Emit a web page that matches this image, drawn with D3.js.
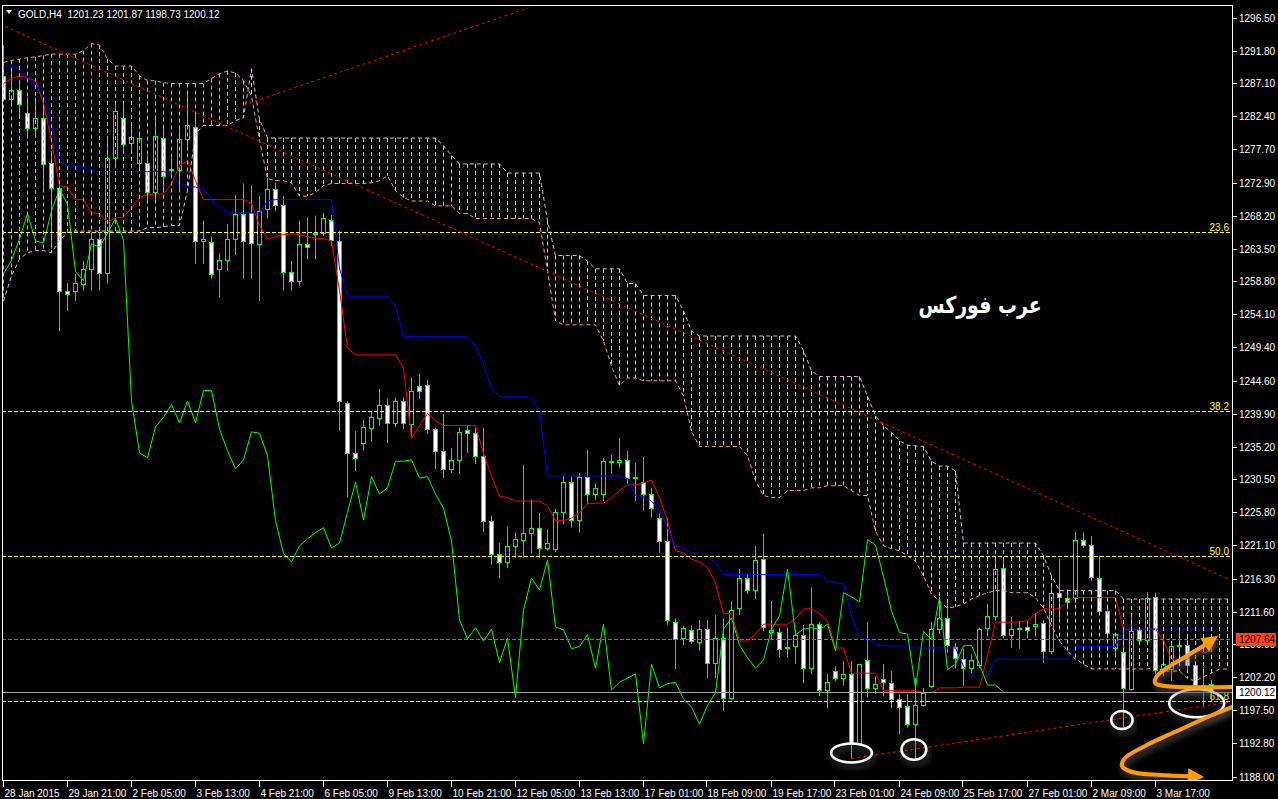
<!DOCTYPE html>
<html><head><meta charset="utf-8">
<script src="https://cdn.jsdelivr.net/npm/d3@7"></script>
<style>
html,body{margin:0;padding:0;background:#000;overflow:hidden}
svg{display:block}
</style></head><body>
<svg id="c" width="1278" height="799"></svg>
<script>
// ---------------- DATA ----------------
const symbol = "GOLD,H4";
const opens = [1288.2,1284.9,1286.1,1282.9,1280.8,1282.2,1275.8,1272.2,1257.5,1257.5,
1258.5,1260.6,1264.9,1260.0,1276.5,1282.1,1278.6,1275.8,1275.8,1271.6,
1279.3,1274.8,1274.8,1279.1,1280.9,1264.6,1264.5,1260.6,1261.8,1264.8,
1268.5,1268.6,1264.2,1269.2,1272.0,1269.8,1260.2,1258.9,1264.2,1265.6,
1265.7,1267.6,1264.6,1241.4,1234.3,1235.7,1237.9,1239.3,1241.2,1238.6,
1241.7,1238.4,1243.9,1244.0,1237.7,1234.6,1232.0,1233.3,1237.6,1237.1,
1233.9,1224.6,1219.9,1218.7,1221.0,1221.9,1222.9,1223.6,1220.7,1220.6,
1225.8,1230.1,1224.7,1230.9,1228.4,1228.4,1233.0,1233.0,1233.3,1230.7,
1230.1,1228.4,1225.0,1221.7,1210.1,1207.8,1209.0,1207.3,1209.1,1204.3,
1207.8,1199.3,1212.1,1216.4,1214.7,1219.1,1208.7,1208.7,1206.4,1206.7,
1208.3,1203.5,1209.8,1200.4,1203.1,1202.1,1202.7,1192.7,1204.7,1200.7,
1202.0,1201.4,1199.1,1198.1,1195.5,1198.2,1201.0,1209.1,1210.7,1206.6,
1204.8,1203.5,1204.0,1209.3,1211.0,1217.9,1208.3,1209.1,1209.4,1209.6,
1210.0,1206.0,1214.3,1213.6,1213.6,1221.9,1221.1,1216.4,1211.7,1206.4,
1205.8,1200.5,1209.0,1207.6,1213.7,1203.2,1203.4,1206.7,1206.8,1204.0,
1200.8,1201.23];
const highs = [1292.6,1289.1,1287.2,1285.1,1285.1,1285.1,1277.5,1272.9,1258.6,1259.9,
1261.7,1265.8,1265.8,1279.1,1284.2,1284.2,1281.2,1279.9,1276.8,1282.2,
1280.9,1276.5,1280.6,1285.6,1282.9,1267.5,1265.2,1262.8,1267.0,1271.2,
1272.8,1272.5,1271.0,1273.6,1272.9,1271.0,1261.7,1267.5,1267.9,1268.2,
1268.6,1268.3,1266.0,1241.7,1237.4,1239.0,1240.3,1243.4,1242.0,1242.2,
1242.2,1245.0,1245.6,1244.7,1237.9,1239.9,1235.0,1237.9,1238.3,1237.9,
1237.9,1225.3,1221.4,1223.7,1222.9,1232.6,1227.6,1225.7,1223.3,1226.3,
1231.0,1230.9,1231.4,1234.7,1229.9,1233.6,1234.0,1236.4,1234.6,1232.9,
1233.7,1229.3,1225.6,1225.0,1210.6,1209.6,1209.6,1210.4,1210.4,1211.1,
1210.6,1213.1,1217.7,1217.0,1221.0,1222.7,1213.1,1209.3,1209.3,1209.0,
1209.7,1215.1,1210.1,1202.7,1203.8,1204.5,1204.5,1204.1,1210.1,1202.3,
1204.1,1203.1,1199.8,1199.8,1202.1,1200.7,1210.1,1213.7,1212.8,1207.1,
1206.3,1205.5,1209.3,1212.7,1219.3,1219.3,1210.8,1210.3,1210.3,1211.4,
1210.4,1215.7,1219.1,1214.8,1223.0,1222.9,1222.4,1219.6,1212.1,1208.6,
1209.1,1211.4,1209.3,1214.4,1214.3,1208.4,1207.2,1209.0,1208.1,1204.5,
1203.7,1201.87];
const lows = [1284.6,1284.2,1282.1,1279.3,1279.6,1271.8,1263.5,1251.7,1254.6,1256.0,
1257.5,1257.5,1257.5,1258.5,1275.6,1277.5,1277.5,1274.6,1269.9,1269.9,
1271.5,1273.9,1271.8,1277.5,1261.3,1261.3,1259.2,1256.5,1260.3,1262.6,
1259.2,1259.2,1256.0,1267.8,1268.9,1257.5,1257.5,1258.2,1262.0,1262.0,
1265.3,1263.9,1237.4,1227.9,1231.7,1234.6,1235.9,1238.2,1235.7,1238.0,
1237.7,1236.6,1242.0,1237.0,1232.0,1230.7,1231.4,1231.3,1234.3,1232.7,
1223.0,1218.3,1216.4,1217.8,1219.3,1219.3,1219.9,1219.3,1220.3,1220.1,
1224.1,1223.6,1222.9,1227.0,1227.6,1227.4,1231.3,1232.2,1229.9,1227.4,
1226.0,1225.0,1220.0,1209.7,1203.4,1206.8,1207.0,1206.0,1202.1,1202.1,
1197.4,1199.1,1211.1,1214.1,1213.4,1208.8,1207.7,1205.0,1205.0,1204.1,
1201.4,1202.7,1199.5,1197.8,1201.7,1201.0,1190.5,1192.5,1199.3,1199.8,
1199.5,1197.8,1194.1,1195.0,1190.3,1198.0,1200.7,1208.4,1205.7,1203.5,
1201.0,1202.8,1203.5,1208.1,1210.3,1207.8,1206.4,1206.3,1207.8,1208.1,
1204.3,1205.5,1210.6,1212.0,1212.8,1220.7,1216.0,1211.3,1207.8,1205.5,
1195.0,1200.3,1207.3,1207.0,1202.7,1202.4,1201.7,1204.5,1203.4,1200.3,
1198.0,1198.73];
const closes = [1284.9,1286.1,1284.2,1280.8,1282.2,1275.6,1272.2,1257.5,1257.0,1258.6,
1260.6,1264.9,1260.0,1276.5,1283.2,1278.5,1279.5,1279.3,1271.6,1279.6,
1273.9,1274.9,1279.1,1281.1,1264.6,1264.8,1259.9,1261.8,1264.9,1268.5,
1264.6,1264.3,1268.9,1272.0,1269.8,1260.2,1258.9,1264.2,1263.7,1265.7,
1267.8,1264.7,1241.7,1234.3,1233.6,1238.0,1239.4,1241.2,1238.6,1241.7,
1238.6,1243.2,1243.2,1237.7,1234.6,1232.0,1233.3,1237.3,1237.1,1233.9,
1224.6,1219.9,1218.7,1221.0,1222.0,1222.9,1223.6,1220.7,1221.4,1225.8,
1230.1,1224.7,1230.9,1228.4,1229.3,1233.1,1233.1,1233.3,1230.7,1230.9,
1228.4,1226.4,1221.7,1210.4,1207.7,1209.3,1207.4,1209.1,1204.3,1207.8,
1199.3,1211.8,1216.4,1214.7,1219.0,1209.4,1209.0,1206.3,1206.6,1208.3,
1203.5,1209.8,1200.4,1201.5,1202.1,1202.7,1192.7,1204.1,1200.7,1201.3,
1201.5,1199.1,1198.0,1195.5,1198.2,1200.0,1209.1,1210.7,1206.8,1205.0,
1203.5,1204.7,1209.1,1211.0,1217.7,1208.3,1209.1,1209.3,1209.0,1209.8,
1206.0,1214.3,1213.7,1213.0,1221.9,1221.1,1216.6,1211.7,1208.6,1208.4,
1200.7,1208.8,1207.6,1213.6,1203.3,1204.1,1206.7,1206.8,1204.0,1201.1,
1201.1,1200.12];
// Ichimoku: Tenkan-sen (red) and Kijun-sen (blue), per bar
const tenkan = [1287.1,1287.8,1288.2,1287.9,1287.5,1284.2,1278.9,1272.5,1272.3,1270.5,
1270.5,1268.6,1268.5,1267.2,1267.9,1268.0,1269.3,1270.8,1271.2,1271.3,
1271.3,1272.8,1275.3,1276.1,1273.2,1270.5,1270.5,1270.5,1270.5,1270.5,
1270.5,1269.9,1266.8,1264.9,1265.2,1265.5,1265.6,1265.5,1265.2,1265.0,
1264.9,1264.6,1257.5,1249.3,1248.3,1248.3,1248.3,1248.3,1248.3,1248.3,
1246.4,1236.4,1238.2,1239.9,1238.9,1238.2,1238.2,1238.2,1238.2,1238.2,
1234.2,1231.0,1228.1,1227.9,1227.4,1227.4,1227.4,1227.4,1226.7,1224.6,
1224.6,1225.0,1225.7,1227.0,1227.1,1227.1,1227.9,1228.9,1229.7,1229.7,
1230.0,1230.4,1227.9,1224.6,1220.3,1220.0,1219.1,1218.7,1217.9,1215.7,
1211.3,1211.3,1207.4,1207.4,1208.4,1209.8,1209.8,1209.8,1209.8,1210.6,
1212.0,1212.0,1211.3,1210.3,1206.4,1206.4,1202.8,1202.8,1202.8,1202.8,
1200.3,1200.3,1200.3,1200.3,1200.3,1200.0,1200.0,1200.7,1200.7,1200.7,
1200.8,1200.8,1200.8,1205.3,1210.1,1210.1,1210.1,1210.1,1210.3,1211.3,
1212.0,1212.0,1212.0,1213.1,1213.6,1213.6,1213.6,1213.6,1213.6,1213.6,
1209.1,1209.1,1209.1,1209.1,1209.1,1207.4,1204.8,1204.8,1204.8,1206.3,
1205.7,1206.0];
const kijun = [1289.6,1289.6,1289.3,1287.9,1286.8,1285.6,1281.3,1276.0,1275.3,1275.3,
1275.3,1274.6,1274.5,1274.5,1274.5,1274.5,1274.5,1274.5,1274.5,1274.5,
1274.5,1274.2,1272.8,1272.3,1272.3,1272.0,1270.5,1269.5,1268.6,1268.6,
1268.6,1268.6,1268.6,1270.3,1270.5,1270.5,1270.5,1270.5,1270.5,1270.5,
1270.5,1270.5,1260.7,1256.7,1256.7,1256.7,1256.7,1256.7,1256.7,1255.3,
1250.9,1250.9,1250.9,1250.9,1250.9,1250.9,1250.9,1250.9,1250.9,1249.6,
1247.0,1243.4,1242.4,1242.4,1242.4,1242.4,1242.2,1240.3,1231.0,1231.0,
1231.0,1231.0,1231.0,1231.0,1231.0,1231.0,1231.0,1231.0,1230.6,1228.2,
1228.0,1227.4,1226.1,1223.6,1221.0,1220.7,1220.0,1219.9,1219.4,1218.6,
1216.9,1216.9,1216.9,1216.9,1216.9,1216.9,1216.9,1216.9,1216.9,1216.9,
1216.9,1216.9,1216.9,1216.0,1215.7,1215.6,1211.0,1208.0,1207.7,1207.0,
1206.7,1206.7,1206.7,1206.7,1206.4,1206.4,1206.4,1206.4,1206.4,1206.4,
1203.8,1202.5,1202.5,1202.5,1204.8,1204.8,1204.8,1204.8,1204.8,1204.8,
1204.8,1204.8,1204.8,1204.8,1206.6,1206.6,1206.6,1206.6,1206.6,1206.6,
1209.1,1209.1,1209.1,1209.1,1209.1,1209.1,1209.1,1209.1,1209.1,1209.1,
1209.1,1209.1];
// Senkou span A (sandy brown) and B (thistle), already shifted 26 bars forward (154 values)
const spanA = [1290.1,1290.4,1290.6,1290.8,1290.9,1291.1,1291.3,1291.3,1291.3,1291.3,
1291.8,1292.8,1292.6,1290.6,1289.6,1289.6,1289.6,1288.2,1287.5,1287.5,
1287.2,1287.1,1287.1,1287.1,1287.1,1287.1,1287.8,1288.5,1288.9,1288.6,
1287.5,1285.3,1279.0,1273.5,1273.2,1273.2,1272.9,1271.0,1271.0,1271.5,
1272.5,1272.8,1272.8,1272.8,1272.8,1272.8,1272.9,1273.2,1273.9,1271.8,
1270.8,1270.3,1270.3,1270.3,1269.6,1269.6,1269.6,1268.5,1268.5,1267.8,
1267.8,1267.8,1267.8,1267.8,1267.8,1267.8,1267.8,1267.2,1260.3,1253.2,
1252.6,1252.6,1252.6,1252.6,1252.6,1250.3,1246.7,1243.9,1245.0,1245.0,
1244.6,1244.6,1244.6,1244.6,1244.6,1242.4,1237.4,1235.2,1235.2,1235.2,
1235.2,1235.2,1235.2,1233.9,1230.3,1228.2,1227.9,1227.9,1228.9,1228.9,
1228.9,1229.3,1229.3,1229.6,1229.6,1229.6,1228.9,1228.2,1228.2,1223.1,
1221.0,1220.6,1220.3,1219.6,1218.8,1216.7,1214.1,1213.1,1212.1,1212.3,
1212.7,1213.4,1213.9,1214.3,1214.6,1214.6,1214.3,1214.3,1214.3,1213.6,
1212.1,1209.6,1207.4,1206.0,1204.8,1204.1,1203.4,1203.4,1203.4,1203.4,
1203.4,1203.4,1203.4,1203.4,1203.7,1203.1,1203.1,1203.1,1202.0,1201.7,
1202.3,1202.8,1203.4,1203.4];
const spanB = [1256.0,1259.6,1262.0,1262.9,1263.2,1263.2,1262.9,1264.6,1265.8,1266.0,
1266.0,1266.0,1266.0,1266.0,1266.0,1266.0,1266.0,1266.0,1266.5,1266.5,
1266.6,1266.8,1266.8,1271.8,1279.9,1281.1,1281.1,1281.1,1281.1,1281.8,
1282.2,1289.2,1282.0,1279.3,1279.3,1279.3,1279.3,1279.3,1279.3,1279.3,
1279.3,1279.3,1279.3,1279.3,1279.3,1279.3,1279.3,1279.3,1279.3,1279.3,
1279.3,1279.3,1279.3,1279.3,1279.3,1278.2,1276.8,1275.6,1275.6,1275.6,
1275.6,1275.6,1275.6,1274.3,1274.3,1274.3,1274.3,1274.3,1267.5,1262.5,
1262.5,1262.5,1262.5,1261.7,1260.6,1260.6,1260.6,1260.6,1258.5,1258.5,
1256.8,1256.8,1256.8,1256.8,1256.8,1254.6,1251.7,1251.0,1251.0,1251.0,
1251.0,1251.0,1251.0,1251.0,1251.0,1251.0,1251.0,1251.0,1251.0,1251.0,
1248.9,1246.0,1245.2,1245.2,1245.2,1245.2,1245.2,1245.2,1242.4,1239.6,
1238.2,1237.2,1236.0,1235.4,1235.3,1235.2,1233.1,1232.4,1232.4,1231.7,
1221.4,1221.4,1221.4,1221.4,1221.4,1221.4,1221.4,1221.4,1221.4,1221.4,
1219.6,1216.7,1214.6,1214.6,1214.6,1214.6,1214.6,1214.6,1214.6,1214.6,
1213.4,1213.4,1213.4,1213.4,1213.4,1213.4,1213.4,1213.4,1213.4,1213.4,
1213.4,1213.4,1213.4,1213.4];
const chikouShift = 26;
// Axis labels
const priceTicks = [1296.5,1291.8,1287.1,1282.4,1277.7,1272.9,1268.2,1263.5,1258.8,1254.1,1249.4,1244.6,
1239.9,1235.2,1230.5,1225.8,1221.1,1216.3,1211.6,1206.9,1202.2,1197.5,1192.8,1188.0];
const timeLabels = ["28 Jan 2015","29 Jan 21:00","2 Feb 05:00","3 Feb 13:00","4 Feb 21:00","6 Feb 05:00",
"9 Feb 13:00","10 Feb 21:00","12 Feb 05:00","13 Feb 13:00","17 Feb 01:00","18 Feb 09:00","19 Feb 17:00",
"23 Feb 01:00","24 Feb 09:00","25 Feb 17:00","27 Feb 01:00","2 Mar 09:00","3 Mar 17:00"];
const timeLabelBars = [0,8,16,24,32,40,48,56,64,72,80,88,96,104,112,120,128,136,144];
// Fibonacci retracement levels
const fibLabels = ["23.6","38.2","50.0","61.8"];
const fibPrices = [1265.9,1240.3,1219.5,1198.8];
// horizontal line & bid
const hlinePrice = 1207.64;
const bidPrice = 1200.12;
// trend lines: [bar, price] start/end
const trendStartBars = [29.97,-0.44,106.0];
const trendStartPrices = [1284.0,1295.6,1190.6];
const trendEndBars = [65.6,153.4,153.5];
const trendEndPrices = [1297.9,1216.1,1198.7];
// annotations (bar, price units)
const ellipseBars = [106.0,113.8,139.8,149.15];
const ellipsePrices = [1191.4,1191.9,1196.1,1198.5];
const ellipseRxBars = [2.55,1.55,1.34,3.44];
const ellipseRyPrices = [1.36,1.47,1.29,2.0];
const arrow1Bars = [153.56,145.19,143.94,144.19,145.44,147.69,149.56,151.81];
const arrow1Prices = [1200.82,1200.97,1201.40,1202.40,1203.54,1205.11,1206.40,1208.11];
const arrow2Bars = [153.56,150.81,146.69,142.69,140.19,139.81,141.06,144.56,150.06];
const arrow2Prices = [1197.96,1196.68,1194.53,1192.39,1190.67,1189.53,1188.67,1188.24,1187.96];
const watermark = "عرب فوركس";

// ---------------- DRAW ----------------
const svg = d3.select("#c");
const PL=2, PR=1233, PT=5, PB=781;
const x = d3.scaleLinear().domain([0,151]).range([3.5,1211.5]);
const y = d3.scaleLinear().domain([1188,1296.5]).range([776.7,17.74]);
const FONT = "'Liberation Sans', Arial, sans-serif";

svg.append("rect").attr("width",1278).attr("height",799).attr("fill","#000");
const defs = svg.append("defs");
defs.append("clipPath").attr("id","clip").append("rect")
  .attr("x",PL).attr("y",PT).attr("width",PR-PL).attr("height",PB-PT);
const f = defs.append("filter").attr("id","shadow").attr("x","-20%").attr("y","-20%").attr("width","140%").attr("height","160%");
f.append("feDropShadow").attr("dx",2).attr("dy",4).attr("stdDeviation",3)
  .attr("flood-color","#5a5a5a").attr("flood-opacity",0.9);

const g = svg.append("g").attr("clip-path","url(#clip)");

// candles
const bars = d3.range(opens.length).map(i=>({i,o:opens[i],h:highs[i],l:lows[i],c:closes[i]}));
g.append("g").selectAll("line").data(bars).join("line")
  .attr("x1",d=>x(d.i)).attr("x2",d=>x(d.i))
  .attr("y1",d=>y(d.h)).attr("y2",d=>y(d.l))
  .attr("stroke","#00ff00").attr("stroke-width",1);
g.append("g").selectAll("rect").data(bars).join("rect")
  .attr("x",d=>x(d.i)-2).attr("width",4)
  .attr("y",d=>Math.round(y(Math.max(d.o,d.c)))+0.5)
  .attr("height",d=>Math.max(0,Math.round(y(Math.min(d.o,d.c)))-Math.round(y(Math.max(d.o,d.c)))))
  .attr("fill",d=>d.c>=d.o?"#000":"#fff")
  .attr("stroke","#00ff00").attr("stroke-width",1);

const lineGen = d3.line().x((d,i)=>x(i)).y(d=>y(d));
// tenkan / kijun
g.append("path").attr("d",lineGen(tenkan)).attr("fill","none").attr("stroke","#ff0000").attr("stroke-width",1);
g.append("path").attr("d",lineGen(kijun)).attr("fill","none").attr("stroke","#0000ff").attr("stroke-width",1);

// cloud hatch
const cloud = d3.range(spanA.length).map(i=>({i,a:spanA[i],b:spanB[i]}));
g.append("g").selectAll("line").data(cloud).join("line")
  .attr("x1",d=>x(d.i)).attr("x2",d=>x(d.i))
  .attr("y1",d=>y(Math.max(d.a,d.b))).attr("y2",d=>y(Math.min(d.a,d.b)))
  .attr("stroke",d=>d.a>=d.b?"#f4a460":"#d8bfd8").attr("stroke-width",1)
  .attr("stroke-dasharray","4,3");

// chikou = closes shifted back
const chikou = closes.slice(chikouShift);
g.append("path").attr("d",lineGen(chikou)).attr("fill","none").attr("stroke","#00ff00").attr("stroke-width",1);

// span edges
g.append("path").attr("d",lineGen(spanA)).attr("fill","none").attr("stroke","#f4a460").attr("stroke-width",1).attr("stroke-dasharray","4,3");
g.append("path").attr("d",lineGen(spanB)).attr("fill","none").attr("stroke","#d8bfd8").attr("stroke-width",1).attr("stroke-dasharray","4,3");

// fib levels
fibPrices.forEach((p,k)=>{
  const yy = Math.round(y(p))+0.5;
  g.append("line").attr("x1",PL).attr("x2",PR).attr("y1",yy).attr("y2",yy)
    .attr("stroke","#ffff00").attr("stroke-width",1).attr("stroke-dasharray","4,2");
  g.append("text").attr("x",1229).attr("y",yy-2).attr("text-anchor","end")
    .attr("fill","#ffff00").attr("font-family",FONT).attr("font-size","10px").text(fibLabels[k]);
});
// horizontal line
{
  const yy = Math.round(y(hlinePrice))+0.5;
  g.append("line").attr("x1",PL).attr("x2",PR).attr("y1",yy).attr("y2",yy)
    .attr("stroke","#ff4500").attr("stroke-width",1).attr("stroke-dasharray","4,2");
}
// trend lines
trendStartBars.forEach((b,k)=>{
  g.append("line").attr("x1",x(b)).attr("y1",y(trendStartPrices[k]))
    .attr("x2",x(trendEndBars[k])).attr("y2",y(trendEndPrices[k]))
    .attr("stroke","#ff0000").attr("stroke-width",1).attr("stroke-dasharray","3,3");
});
// bid line
{
  const yy = Math.round(y(bidPrice))+0.5;
  g.append("line").attr("x1",PL).attr("x2",PR).attr("y1",yy).attr("y2",yy)
    .attr("stroke","#a0a0a0").attr("stroke-width",1);
}

// watermark
svg.append("text").attr("transform","translate(980,313) scale(0.86,1.05)").attr("text-anchor","middle")
  .attr("fill","#fff").attr("font-family","'DejaVu Sans', sans-serif").attr("font-weight","bold")
  .attr("font-size","22px").attr("direction","rtl").text(watermark);

// annotations
const ann = svg.append("g").attr("clip-path","url(#clip)");
ellipseBars.forEach((b,k)=>{
  ann.append("ellipse").attr("cx",x(b)).attr("cy",y(ellipsePrices[k]))
    .attr("rx",x(b+ellipseRxBars[k])-x(b)).attr("ry",y(ellipsePrices[k]-ellipseRyPrices[k])-y(ellipsePrices[k]))
    .attr("fill","none").attr("stroke","#fff").attr("stroke-width",2.5).attr("filter","url(#shadow)");
});
function arrow(bs,ps){
  const pts = bs.map((b,k)=>[x(b),y(ps[k])]);
  const tip = pts[pts.length-1];
  const prev = pts[pts.length-2];
  const dx = tip[0]-prev[0], dy = tip[1]-prev[1];
  const L = Math.hypot(dx,dy), ux=dx/L, uy=dy/L;
  const hl=16, hw=8;
  const bx = tip[0]-ux*hl, by = tip[1]-uy*hl;
  const body = pts.slice(0,-1).concat([[bx+ux*2,by+uy*2]]);
  const gg = ann.append("g").attr("filter","url(#shadow)");
  gg.append("path").attr("d",d3.line().curve(d3.curveCatmullRom.alpha(0.5))(body))
    .attr("fill","none").attr("stroke","#ff9c00").attr("stroke-width",4).attr("stroke-linecap","round");
  gg.append("path").attr("d",`M${tip[0]},${tip[1]}L${bx-uy*hw},${by+ux*hw}L${bx+uy*hw},${by-ux*hw}Z`)
    .attr("fill","#ff9c00");
}
arrow(arrow1Bars,arrow1Prices);
arrow(arrow2Bars,arrow2Prices);

// frame
svg.append("rect").attr("x",PL+0.5).attr("y",PT+0.5).attr("width",PR-PL-1).attr("height",PB-PT-1)
  .attr("fill","none").attr("stroke","#fff").attr("stroke-width",1);

// price axis
const pa = svg.append("g");
defs.append("clipPath").attr("id","belowTag").append("rect")
  .attr("x",1234).attr("y",Math.round(y(hlinePrice))+7).attr("width",44).attr("height",20);
priceTicks.forEach(p=>{
  const yy = Math.round(y(p))+0.5;
  pa.append("line").attr("x1",PR).attr("x2",PR+4).attr("y1",yy).attr("y2",yy).attr("stroke","#fff");
  const hidden = Math.abs(p-hlinePrice) < 1.5;
  const t = pa.append("text").attr("x",1239).attr("y",yy+3.5).attr("fill","#fff")
    .attr("font-family",FONT).attr("font-size","10px").text(p.toFixed(2));
  if (hidden) t.attr("clip-path","url(#belowTag)");
});
// hline label
[[hlinePrice,"#ff4500","#000"],[bidPrice,"#fff","#000"]].forEach(([p,bg,fg])=>{
  const yy = Math.round(y(p));
  pa.append("rect").attr("x",1236).attr("y",yy-6).attr("width",40).attr("height",13).attr("fill",bg);
  pa.append("text").attr("x",1239).attr("y",yy+4).attr("fill",fg)
    .attr("font-family",FONT).attr("font-size","10px").text(p.toFixed(2));
});
// time axis
const ta = svg.append("g");
timeLabelBars.forEach((b,k)=>{
  const xx = Math.round(x(b)-1)+0.5;
  ta.append("line").attr("x1",xx).attr("x2",xx).attr("y1",PB).attr("y2",PB+6).attr("stroke","#fff");
  ta.append("text").attr("x",xx+1).attr("y",797).attr("fill","#fff")
    .attr("font-family",FONT).attr("font-size","10px").text(timeLabels[k]);
});

// header
svg.append("path").attr("d","M6,10L12,10L9,14Z").attr("fill","#fff");
svg.append("text").attr("x",18).attr("y",18).attr("fill","#fff")
  .attr("font-family",FONT).attr("font-size","10px").attr("xml:space","preserve")
  .text(`${symbol}  ${opens[151].toFixed(2)} ${highs[151].toFixed(2)} ${lows[151].toFixed(2)} ${closes[151].toFixed(2)}`);
</script>
</body></html>
